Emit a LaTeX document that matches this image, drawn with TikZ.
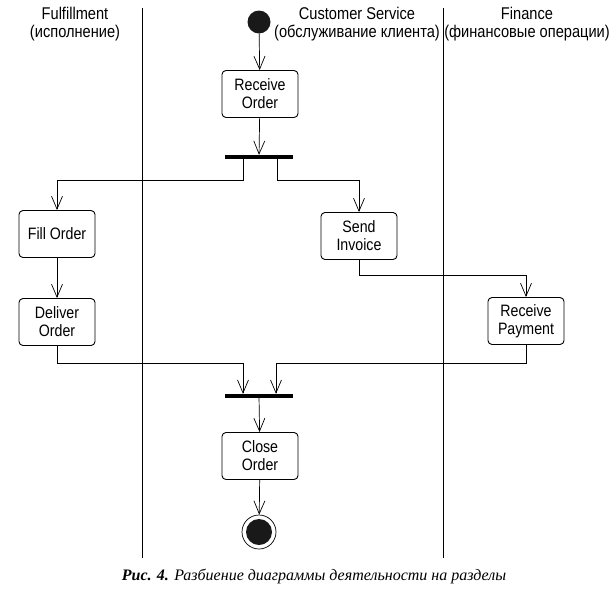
\documentclass[tikz,border=0pt]{standalone}
\usepackage{fontspec}
\usepackage{tikz}
\usetikzlibrary{arrows.meta}
\setmainfont{Liberation Serif}
\newfontfamily\lanefont[FakeStretch=0.86]{Liberation Sans}

\begin{document}
\begin{tikzpicture}[x=1pt, y=-1pt,
  activity/.style={draw, rounded corners=4pt, line width=0.9pt, minimum width=76pt,
    minimum height=47pt, inner sep=1pt, align=center, font=\lanefont\fontsize{16.5}{18}\selectfont},
  lane/.style={align=center, font=\lanefont\fontsize{17}{18.5}\selectfont},
  syncbar/.style={fill=black, inner sep=0pt, minimum width=68pt, minimum height=4pt},
  flow/.style={line width=0.7pt, -{Straight Barb[length=13pt, width=11pt]}}]
\useasboundingbox (0,0) rectangle (616,603);

% swimlanes
\draw[line width=0.7pt] (142,8) -- (142,558);
\draw[line width=0.7pt] (443,8) -- (443,558);
\node[lane] (fulfil)   at (75,24)  {Fulfillment\\(исполнение)};
\node[lane] (service)  at (357,24) {Customer Service\\(обслуживание клиента)};
\node[lane] (finance)  at (527,24) {Finance\\(финансовые операции)};

% activities
\node[circle, fill=black!90, minimum size=23pt, inner sep=0pt] (start) at (259,22) {};
\node[activity] (recv)    at (260,94)  {Receive\\Order};
\node[syncbar]  (fork)    at (259,157) {};
\node[activity] (fill)    at (57,234)  {Fill Order};
\node[activity] (send)    at (359,236) {Send\\Invoice};
\node[activity] (deliver) at (57,322)  {Deliver\\Order};
\node[activity] (payment) at (526,321) {Receive\\Payment};
\node[syncbar]  (join)    at (259,396) {};
\node[activity] (close)   at (260,456) {Close\\Order};
\node[circle, draw, line width=0.7pt, minimum size=34pt, inner sep=0pt] (stop) at (259,532) {};
\node[circle, fill=black!90, minimum size=26pt, inner sep=0pt] (stopdot) at (stop.center) {};

% transitions
\draw[flow] (start) -- (recv);
\draw[flow] (recv) -- (fork);
\draw[flow] ([xshift=-16pt]fork.south) -- ++(0,21) -| (fill.north);
\draw[flow] ([xshift=18pt]fork.south) -- ++(0,21) -| (send.north);
\draw[flow] (fill) -- (deliver);
\draw[flow] (send.south) -- ++(0,15) -| (payment.north);
\draw[flow] (deliver.south) -- ++(0,17) -| ([xshift=-16pt]join.north);
\draw[flow] (payment.south) -- ++(0,18) -| ([xshift=17pt]join.north);
\draw[flow] (join) -- (close);
\draw[flow] (close) -- (stop);

\node[anchor=base, font=\fontsize{16}{18}\selectfont\itshape] (caption) at (314,580)
  {\textbf{Рис. 4.} Разбиение диаграммы деятельности на разделы};
\end{tikzpicture}
\end{document}
